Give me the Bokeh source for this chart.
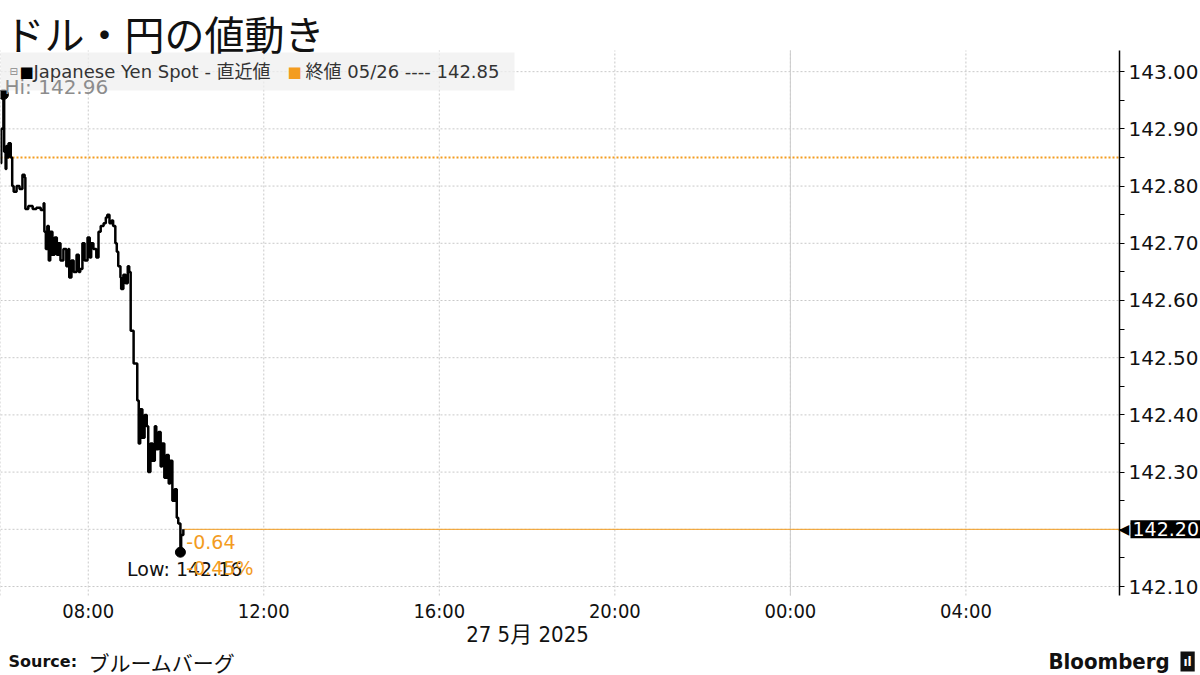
import pandas as pd
from bokeh.plotting import figure
from bokeh.models import (Label, FixedTicker, DatetimeTickFormatter, NumeralTickFormatter,
                          Range1d, BoxAnnotation, ColumnDataSource)
from bokeh.embed import file_html
from bokeh.resources import INLINE

# ---------------- data ----------------
TITLE = "ドル・円の値動き"
DAY = "2025-05-27"
times = ["06:00", "06:01", "06:04", "06:05", "06:07", "06:08", "06:10", "06:11", "06:14", "06:16",
         "06:18", "06:22", "06:26", "06:30", "06:33", "06:34", "06:38", "06:44", "06:49", "06:55",
         "06:59", "07:00", "07:02", "07:04", "07:06", "07:08", "07:11", "07:14", "07:17", "07:19",
         "07:22", "07:26", "07:30", "07:33", "07:34", "07:37", "07:40", "07:44", "07:47", "07:49",
         "07:52", "07:55", "07:59", "08:02", "08:04", "08:07", "08:11", "08:14", "08:17", "08:21",
         "08:24", "08:26", "08:29", "08:32", "08:34", "08:37", "08:39", "08:41", "08:44", "08:45",
         "08:48", "08:51", "08:54", "08:56", "08:58", "09:02", "09:07", "09:09", "09:11", "09:14",
         "09:17", "09:20", "09:22", "09:25", "09:28", "09:31", "09:33", "09:36", "09:39", "09:41",
         "09:44", "09:47", "09:50", "09:52", "09:55", "09:58", "10:01", "10:03", "10:06", "10:07",
         "10:10"]
prices = [142.84, 142.90, 142.96, 142.86, 142.83, 142.87, 142.85, 142.875, 142.85, 142.80,
          142.79, 142.80, 142.795, 142.82, 142.815, 142.76, 142.765, 142.76, 142.762, 142.758,
          142.77, 142.72, 142.69, 142.73, 142.67, 142.72, 142.68, 142.71, 142.68, 142.70,
          142.67, 142.69, 142.66, 142.69, 142.64, 142.67, 142.65, 142.68, 142.65, 142.655,
          142.70, 142.67, 142.71, 142.675, 142.70, 142.69, 142.675, 142.72, 142.73, 142.735,
          142.745, 142.75, 142.735, 142.74, 142.73, 142.70, 142.685, 142.66, 142.64, 142.62,
          142.645, 142.63, 142.66, 142.65, 142.547, 142.49, 142.425, 142.35, 142.41, 142.36,
          142.40, 142.38, 142.30, 142.35, 142.32, 142.38, 142.34, 142.37, 142.31, 142.35,
          142.29, 142.33, 142.28, 142.32, 142.25, 142.27, 142.22, 142.21, 142.16, 142.19,
          142.20]
series_name = "Japanese Yen Spot - 直近値"
prev_close = 142.85
prev_close_label = "終値 05/26 ---- 142.85"
change_abs = "-0.64"
change_pct = "-0.45%"
x_start = "2025-05-27 06:00"
x_end = "2025-05-28 07:30"
x_ticks = ["2025-05-27 08:00", "2025-05-27 12:00", "2025-05-27 16:00",
           "2025-05-27 20:00", "2025-05-28 00:00", "2025-05-28 04:00"]
day_boundary = "2025-05-28 00:00"
date_label = "27 5月 2025"
y_ticks = [142.10, 142.20, 142.30, 142.40, 142.50, 142.60, 142.70, 142.80, 142.90, 143.00]
y_lo, y_hi = 142.0843, 143.037
source_label = "Source:"
source_name = "ブルームバーグ"
brand = "Bloomberg"

# ---------------- layout / styles ----------------
W, H = 1200, 675
PL, PR, PT, PB = 0, 1119, 50, 595          # plot area in canvas pixels
ORANGE = "#f39c1f"
GRID = "#c9c9c9"
NUM_FONT = "'DejaVu Sans', 'Noto Sans CJK JP', sans-serif"
NARROW = "'Liberation Sans Narrow', 'DejaVu Sans Condensed', 'Noto Sans CJK JP', sans-serif"
JP = "'Noto Sans CJK JP', sans-serif"

def ms(s):
    return pd.Timestamp(s).value / 1e6

# extend ranges so that the plot area lands where it should inside the full canvas frame
xpp = (ms(x_end) - ms(x_start)) / (PR - PL)
ypp = (y_hi - y_lo) / (PB - PT)
x_range = Range1d(ms(x_start) - PL * xpp, ms(x_end) + (W - PR) * xpp)
y_range = Range1d(y_lo - (H - PB) * ypp, y_hi + PT * ypp)

t = pd.to_datetime([f"{DAY} {h}" for h in times])
src = ColumnDataSource(dict(t=t, v=prices))

p = figure(width=W, height=H, x_axis_type="datetime", y_axis_location="right",
           x_range=x_range, y_range=y_range, output_backend="svg", toolbar_location=None,
           min_border=0)
p.title.visible = False
p.outline_line_color = None
p.background_fill_color = "white"
p.border_fill_color = "white"
p.xgrid.visible = False
p.ygrid.visible = False

# x axis (fixed at the bottom of the plot area)
xa = p.xaxis[0]
xa.fixed_location = y_lo
xa.ticker = FixedTicker(ticks=[ms(s) for s in x_ticks])
fmt = "%H:%M"
xa.formatter = DatetimeTickFormatter(hours=fmt, hourmin=fmt, days=fmt, minutes=fmt, minsec=fmt)
xa.axis_line_color = None
xa.major_tick_line_color = None
xa.minor_tick_line_color = None
xa.major_tick_in = 0
xa.major_tick_out = 0
xa.minor_tick_in = 0
xa.minor_tick_out = 0
xa.major_label_text_font = NARROW
xa.major_label_text_font_size = "20px"
xa.major_label_text_color = "#111111"
xa.major_label_standoff = 3

# y axis (fixed at the right edge of the plot area)
minor_y = [(a + b) / 2 for a, b in zip(y_ticks[:-1], y_ticks[1:])]
ya = p.yaxis[0]
ya.fixed_location = ms(x_end)
ya.bounds = (y_lo, y_hi)
ya.ticker = FixedTicker(ticks=y_ticks, minor_ticks=minor_y)
ya.formatter = NumeralTickFormatter(format="0.00")
ya.axis_line_color = "black"
ya.axis_line_width = 1.5
ya.major_tick_in = 0
ya.major_tick_out = 5
ya.minor_tick_in = 0
ya.minor_tick_out = 5
ya.major_tick_line_color = "black"
ya.minor_tick_line_color = "black"
ya.major_label_text_font = NUM_FONT
ya.major_label_text_font_size = "20px"
ya.major_label_text_color = "#111111"
ya.major_label_standoff = 4

# grid lines limited to the plot area
gx = [pd.Timestamp(s) for s in x_ticks]
p.segment(x0=gx, x1=gx, y0=[y_lo] * len(gx), y1=[y_hi] * len(gx),
          line_color=GRID, line_dash="2 2", line_width=1)
p.segment(x0=[pd.Timestamp(x_start)] * len(y_ticks), x1=[pd.Timestamp(x_end)] * len(y_ticks),
          y0=y_ticks, y1=y_ticks, line_color=GRID, line_dash="2 2", line_width=1)
p.segment(x0=[pd.Timestamp(x_start)], x1=[pd.Timestamp(x_start)],
          y0=[y_lo], y1=[y_hi], line_color=GRID, line_dash="2 2", line_width=1)
p.segment(x0=[pd.Timestamp(day_boundary)], x1=[pd.Timestamp(day_boundary)],
          y0=[y_lo], y1=[y_hi], line_color="#cccccc", line_width=1)

# previous close (dotted orange)
p.line([pd.Timestamp(x_start), pd.Timestamp(x_end)], [prev_close, prev_close],
       line_color=ORANGE, line_dash="2 2", line_width=2)

# current price line
last_t = t[-1]
last_v = prices[-1]
p.line([last_t, pd.Timestamp(x_end)], [last_v, last_v], line_color=ORANGE, line_width=1)

# main series
p.step("t", "v", source=src, mode="after", line_color="black", line_width=2.5)

i_hi = max(range(len(prices)), key=lambda i: prices[i])
i_lo = min(range(len(prices)), key=lambda i: prices[i])
p.scatter([t[i_hi], t[i_lo]], [prices[i_hi], prices[i_lo]], size=10, color="black")

# annotations
p.add_layout(Label(x=t[i_lo], y=prices[i_lo], text=f"Low: {prices[i_lo]:.2f}", x_offset=62, y_offset=-17,
                   text_font=NUM_FONT, text_font_size="19px", text_color="#111111",
                   text_align="right", text_baseline="middle"))
p.add_layout(Label(x=last_t, y=last_v, text=change_abs, x_offset=3, y_offset=-13,
                   text_font=NUM_FONT, text_font_size="19px", text_color=ORANGE,
                   text_baseline="middle"))
p.add_layout(Label(x=last_t, y=last_v, text=change_pct, x_offset=3, y_offset=-39,
                   text_font=NUM_FONT, text_font_size="19px", text_color=ORANGE,
                   text_baseline="middle"))

# legend band
p.add_layout(BoxAnnotation(left=0, right=514, top=52, bottom=90,
                           left_units="canvas", right_units="canvas",
                           top_units="canvas", bottom_units="canvas",
                           fill_color="#efefef", fill_alpha=0.75, line_color=None))
p.add_layout(Label(x=4, y=86, x_units="canvas", y_units="canvas", text=f"Hi: {prices[i_hi]:.2f}",
                   text_font=NUM_FONT, text_font_size="20px", text_color="#8c8c8c",
                   text_baseline="middle"))
p.add_layout(Label(x=9, y=71, x_units="canvas", y_units="canvas", text="⊟",
                   text_font=NUM_FONT, text_font_size="10px", text_color="#888888",
                   text_baseline="middle"))
p.add_layout(Label(x=19, y=71, x_units="canvas", y_units="canvas", text="■",
                   text_font=NUM_FONT, text_font_size="15px", text_color="black",
                   text_baseline="middle"))
p.add_layout(Label(x=33, y=71, x_units="canvas", y_units="canvas", text=series_name,
                   text_font=NUM_FONT, text_font_size="18px", text_color="#333333",
                   text_baseline="middle"))
p.add_layout(Label(x=287, y=71, x_units="canvas", y_units="canvas", text="■",
                   text_font=NUM_FONT, text_font_size="15px", text_color=ORANGE,
                   text_baseline="middle"))
p.add_layout(Label(x=305, y=71, x_units="canvas", y_units="canvas", text=prev_close_label,
                   text_font=NUM_FONT, text_font_size="18px", text_color="#333333",
                   text_baseline="middle"))

# price tag on the axis
p.add_layout(Label(x=PR - 1, y=last_v, x_units="canvas", text="◀", text_font=NUM_FONT,
                   text_font_size="14px", text_color="black", text_baseline="middle"))
p.add_layout(Label(x=1130, y=last_v, x_units="canvas", text=f"{last_v:.2f}", text_font=NUM_FONT,
                   text_font_size="19px", text_color="white", text_baseline="middle",
                   background_fill_color="black", padding=2))

# title and footer
p.add_layout(Label(x=4, y=3, x_units="canvas", y_units="canvas", text=TITLE,
                   text_font=JP, text_font_size="40px", text_color="#111111",
                   text_baseline="top"))
p.add_layout(Label(x=527, y=634, x_units="canvas", y_units="canvas", text=date_label,
                   text_font=NARROW, text_font_size="22px", text_color="#111111",
                   text_align="center", text_baseline="middle"))
p.add_layout(Label(x=8, y=661, x_units="canvas", y_units="canvas", text=source_label,
                   text_font=NUM_FONT, text_font_size="16px", text_font_style="bold",
                   text_color="#111111", text_baseline="middle"))
p.add_layout(Label(x=88, y=661, x_units="canvas", y_units="canvas", text=source_name,
                   text_font=JP, text_font_size="21px", text_color="#111111",
                   text_baseline="middle"))
p.add_layout(Label(x=1048, y=661, x_units="canvas", y_units="canvas", text=brand,
                   text_font=NARROW, text_font_size="22px", text_font_style="bold",
                   text_color="#111111", text_baseline="middle"))
p.add_layout(Label(x=1180, y=661, x_units="canvas", y_units="canvas", text="ıl",
                   text_font=NUM_FONT, text_font_size="12px", text_font_style="bold",
                   text_color="white", text_baseline="middle",
                   background_fill_color="#111111", padding=3))

open("out.html", "w").write(file_html(p, INLINE))
